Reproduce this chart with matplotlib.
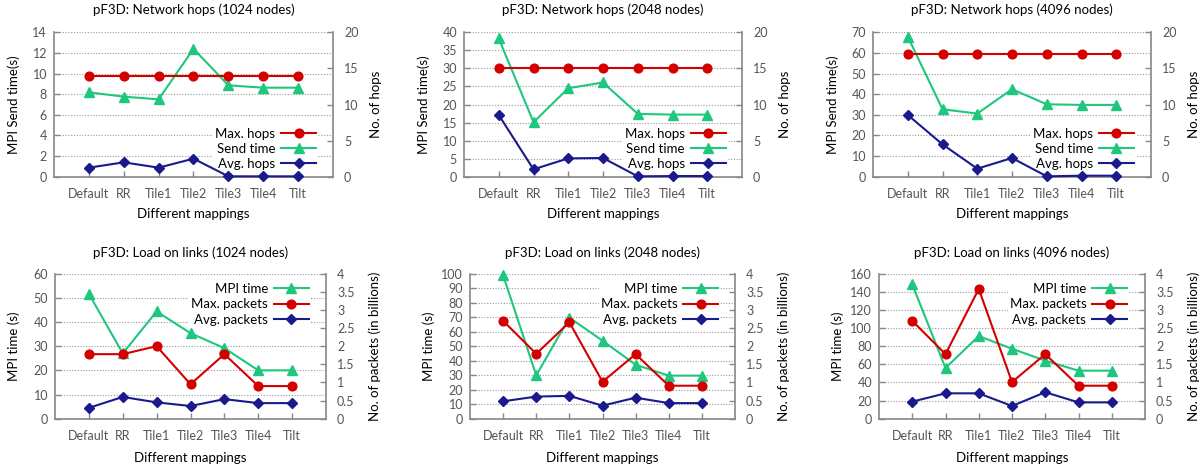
import matplotlib
matplotlib.use("Agg")
import matplotlib.pyplot as plt
from matplotlib.ticker import FuncFormatter

# ---------------- data ----------------
categories = ['Default', 'RR', 'Tile1', 'Tile2', 'Tile3', 'Tile4', 'Tilt']

# Network hops panels
send_1024 = [8.18, 7.76, 7.5, 12.4, 8.86, 8.63, 8.63]
maxhops_1024 = [14, 14, 14, 14, 14, 14, 14]
avghops_1024 = [1.25, 1.99, 1.25, 2.5, 0.05, 0.05, 0.05]

send_2048 = [38.3, 15.1, 24.5, 26.1, 17.4, 17.2, 17.2]
maxhops_2048 = [15, 15, 15, 15, 15, 15, 15]
avghops_2048 = [8.55, 1.02, 2.54, 2.59, 0.05, 0.09, 0.09]

send_4096 = [67.9, 32.7, 30.6, 42.4, 35.1, 34.8, 34.8]
maxhops_4096 = [17, 17, 17, 17, 17, 17, 17]
avghops_4096 = [8.55, 4.48, 1.11, 2.59, 0.05, 0.14, 0.14]

# Load on links panels
mpi_1024 = [51.7, 27.0, 44.4, 35.4, 29.2, 20.0, 20.0]
maxpk_1024 = [1.78, 1.78, 2.0, 0.95, 1.78, 0.9, 0.9]
avgpk_1024 = [0.30, 0.60, 0.45, 0.35, 0.54, 0.43, 0.43]

mpi_2048 = [98.9, 29.9, 69.7, 53.8, 37.2, 29.7, 29.7]
maxpk_2048 = [2.70, 1.79, 2.66, 1.02, 1.78, 0.91, 0.91]
avgpk_2048 = [0.48, 0.61, 0.63, 0.36, 0.58, 0.43, 0.43]

mpi_4096 = [148.2, 55.9, 91.2, 77.2, 64.0, 53.0, 53.0]
maxpk_4096 = [2.70, 1.78, 3.58, 1.01, 1.78, 0.91, 0.91]
avgpk_4096 = [0.47, 0.70, 0.70, 0.35, 0.73, 0.45, 0.45]

node_counts = ['1024', '2048', '4096']

# ---------------- style ----------------
W, H = 1202, 467
RED = '#d40000'
GREEN = '#1fc77e'
BLUE = '#1a1a8c'
GRAY = '#888888'
TICKC = '#555555'
FONT = 'Lato'
FS = 9.5
plt.rcParams['font.family'] = [FONT, 'DejaVu Sans']

fig = plt.figure(figsize=(W / 100, H / 100), dpi=100)


def px_axes(left, right, top, bottom):
    return fig.add_axes([left / W, 1 - bottom / H, (right - left) / W, (bottom - top) / H])


def style(ax, ax2):
    for a in (ax, ax2):
        a.spines['top'].set_visible(False)
        for s in ('left', 'right', 'bottom'):
            a.spines[s].set_color(GRAY)
            a.spines[s].set_linewidth(1.2)
    ax.spines['right'].set_visible(False)
    ax2.spines['left'].set_visible(False)
    ax2.spines['bottom'].set_visible(False)
    ax.tick_params(axis='y', direction='in', length=4, width=1, color=GRAY,
                   labelcolor=TICKC, labelsize=9, pad=5)
    ax.tick_params(axis='x', direction='in', length=4, width=1, color=GRAY,
                   labelcolor=TICKC, labelsize=9, pad=8)
    ax2.tick_params(axis='y', direction='in', length=4, width=1, color=GRAY,
                    labelcolor=TICKC, labelsize=9, pad=8)
    ax.yaxis.grid(True, color='#999999', linestyle=(0, (1, 1.5)), linewidth=0.8)
    ax.set_axisbelow(True)
    ax.set_xlim(-1, 7)
    ax.set_xticks(range(len(categories)))
    ax.set_xticklabels(categories)


LEG = dict(markerfirst=False, frameon=True, fancybox=False, framealpha=1,
           edgecolor='none', facecolor='white', fontsize=FS, handlelength=2.65,
           handletextpad=0.45, borderpad=0.15, loc='upper right', borderaxespad=0)

top_boxes = [(54, 333), (464, 742), (873, 1151)]
bot_boxes = [(55, 326), (470, 735), (879, 1145)]
top_y = (32.3, 176.7)
bot_y = (273.7, 418.7)
# legend targets (pixel): right end of handle, centre of first row, row pitch
top_leg_x = [320.7, 730.0, 1138.3]
bot_leg_x = [313.3, 722.7, 1131.7]

send = [send_1024, send_2048, send_4096]
maxh = [maxhops_1024, maxhops_2048, maxhops_4096]
avgh = [avghops_1024, avghops_2048, avghops_4096]
top_lims = [(14, 2), (40, 5), (70, 10)]

mpi = [mpi_1024, mpi_2048, mpi_4096]
maxp = [maxpk_1024, maxpk_2048, maxpk_4096]
avgp = [avgpk_1024, avgpk_2048, avgpk_4096]
bot_lims = [(60, 10), (100, 10), (160, 20)]

x = list(range(len(categories)))
lw = 1.5
legend_specs = []

# ---------------- top row ----------------
for i in range(3):
    l, r = top_boxes[i]
    ax = px_axes(l, r, top_y[0], top_y[1])
    ax2 = ax.twinx()
    style(ax, ax2)
    ymax, step = top_lims[i]
    ax.set_ylim(0, ymax)
    ax.set_yticks(range(0, ymax + 1, step))
    ax2.set_ylim(0, 20)
    ax2.set_yticks(range(0, 21, 5))
    hs, = ax.plot(x, send[i], color=GREEN, lw=lw, marker='^', ms=6.5, clip_on=False, zorder=3)
    hm, = ax2.plot(x, maxh[i], color=RED, lw=lw, marker='o', ms=6.3, clip_on=False, zorder=3)
    ha, = ax2.plot(x, avgh[i], color=BLUE, lw=lw, marker='D', ms=4.8, clip_on=False, zorder=3)
    legend_specs.append((ax2, [hm, hs, ha], ['Max. hops', 'Send time', 'Avg. hops'],
                         top_leg_x[i], 133.3, 15.0))
    fig.text((l + r) / 2 / W, 1 - 10 / H, f'pF3D: Network hops ({node_counts[i]} nodes)',
             ha='center', va='center', fontsize=FS)
    ax.set_ylabel('MPI Send time(s)', fontsize=FS)
    ax.yaxis.set_label_coords((l - 40) / W, 1 - 104.5 / H, transform=fig.transFigure)
    ax2.set_ylabel('No. of hops', fontsize=FS)
    ax2.yaxis.set_label_coords((r + 43) / W, 1 - 104.5 / H, transform=fig.transFigure)
    ax.set_xlabel('Different mappings', fontsize=FS)
    ax.xaxis.set_label_coords((l + r) / 2 / W, 1 - 214 / H, transform=fig.transFigure)
    ax.xaxis.label.set_va('center')
    ax.yaxis.label.set_va('center')
    ax2.yaxis.label.set_va('center')

# ---------------- bottom row ----------------
for i in range(3):
    l, r = bot_boxes[i]
    ax = px_axes(l, r, bot_y[0], bot_y[1])
    ax2 = ax.twinx()
    style(ax, ax2)
    ymax, step = bot_lims[i]
    ax.set_ylim(0, ymax)
    ax.set_yticks(range(0, ymax + 1, step))
    ax2.set_ylim(0, 4)
    ax2.set_yticks([k * 0.5 for k in range(9)])
    ax2.yaxis.set_major_formatter(FuncFormatter(lambda v, p: f'{v:g}'))
    hmt, = ax.plot(x, mpi[i], color=GREEN, lw=lw, marker='^', ms=6.5, clip_on=False, zorder=3)
    hmp, = ax2.plot(x, maxp[i], color=RED, lw=lw, marker='o', ms=6.3, clip_on=False, zorder=3)
    hap, = ax2.plot(x, avgp[i], color=BLUE, lw=lw, marker='D', ms=4.8, clip_on=False, zorder=3)
    legend_specs.append((ax2, [hmt, hmp, hap], ['MPI time', 'Max. packets', 'Avg. packets'],
                         bot_leg_x[i], 288.3, 15.5))
    fig.text((l + r) / 2 / W, 1 - 253 / H, f'pF3D: Load on links ({node_counts[i]} nodes)',
             ha='center', va='center', fontsize=FS)
    ax.set_ylabel('MPI time (s)', fontsize=FS)
    ax.yaxis.set_label_coords((l - 41) / W, 1 - 346 / H, transform=fig.transFigure)
    ax2.set_ylabel('No. of packets (in billions)', fontsize=FS)
    ax2.yaxis.set_label_coords((r + 49) / W, 1 - 346 / H, transform=fig.transFigure)
    ax.set_xlabel('Different mappings', fontsize=FS)
    ax.xaxis.set_label_coords((l + r) / 2 / W, 1 - 457.7 / H, transform=fig.transFigure)
    ax.xaxis.label.set_va('center')
    ax.yaxis.label.set_va('center')
    ax2.yaxis.label.set_va('center')

# ---------------- legends placed at measured pixel positions ----------------
fs_px = FS * 100 / 72
for ax2, hnd, lab, tx, ty, tp in legend_specs:
    anchor = (tx / W, 1 - (ty - 8) / H)
    ls0 = 0.2
    leg = ax2.legend(hnd, lab, bbox_to_anchor=anchor, bbox_transform=fig.transFigure,
                     labelspacing=ls0, **LEG)
    fig.canvas.draw()
    rend = fig.canvas.get_renderer()
    bb = [h.get_window_extent(rend) for h in leg.legend_handles]
    pitch = ((bb[0].y0 + bb[0].y1) / 2 - (bb[2].y0 + bb[2].y1) / 2) / 2
    ls = max(0.0, ls0 + (tp - pitch) / fs_px)
    leg.remove()
    leg = ax2.legend(hnd, lab, bbox_to_anchor=anchor, bbox_transform=fig.transFigure,
                     labelspacing=ls, **LEG)
    fig.canvas.draw()
    b0 = leg.legend_handles[0].get_window_extent(fig.canvas.get_renderer())
    cy = (b0.y0 + b0.y1) / 2
    rx = b0.x1
    dx = tx - rx
    dy = (H - ty) - cy
    leg.set_bbox_to_anchor((anchor[0] + dx / W, anchor[1] + dy / H), transform=fig.transFigure)
    leg.set_zorder(2.5)

fig.savefig('out.png', dpi=100)
